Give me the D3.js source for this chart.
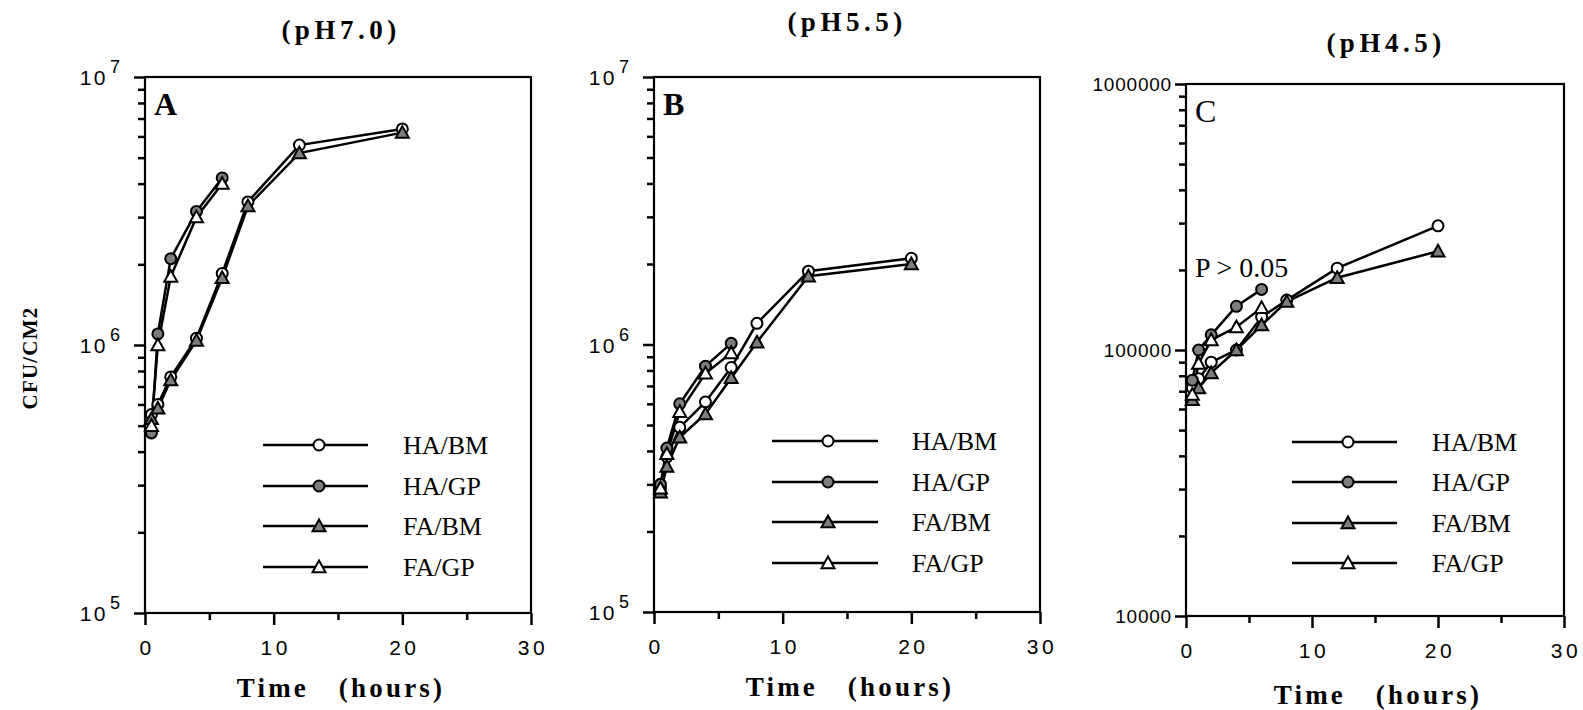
<!DOCTYPE html>
<html>
<head>
<meta charset="utf-8">
<script src="https://cdn.jsdelivr.net/npm/d3@7/dist/d3.min.js"></script>
<style>
  html, body { margin: 0; padding: 0; background: #fff; }
  svg { display: block; }
  .serif { font-family: "Liberation Serif", "Times New Roman", serif; }
  .sans { font-family: "Liberation Sans", Arial, sans-serif; }
</style>
</head>
<body>
<svg id="chart" width="1583" height="710"></svg>
<script>
// ---------------- DATA ----------------
const seriesNames = ["HA/BM", "HA/GP", "FA/BM", "FA/GP"];
const timesLong = [0.5, 1, 2, 4, 6, 8, 12, 20];
const timesShort = [0.5, 1, 2, 4, 6];
const xTicksMajor = [0, 10, 20, 30];
const xTicksMinor = [5, 15, 25];

const panelTitles = ["(pH7.0)", "(pH5.5)", "(pH4.5)"];
const panelLetters = ["A", "B", "C"];

// Panel A (pH 7.0)
const A_HA_BM = [5.5e5, 6.0e5, 7.6e5, 1.06e6, 1.85e6, 3.42e6, 5.57e6, 6.4e6];
const A_HA_GP = [4.7e5, 1.1e6, 2.1e6, 3.15e6, 4.2e6];
const A_FA_BM = [5.3e5, 5.8e5, 7.4e5, 1.04e6, 1.78e6, 3.3e6, 5.2e6, 6.2e6];
const A_FA_GP = [5.0e5, 1.0e6, 1.8e6, 3.0e6, 4.0e6];

// Panel B (pH 5.5)
const B_HA_BM = [2.9e5, 3.8e5, 4.9e5, 6.1e5, 8.2e5, 1.2e6, 1.88e6, 2.1e6];
const B_HA_GP = [3.0e5, 4.1e5, 6.0e5, 8.3e5, 1.01e6];
const B_FA_BM = [2.8e5, 3.5e5, 4.5e5, 5.5e5, 7.5e5, 1.02e6, 1.8e6, 2.0e6];
const B_FA_GP = [2.9e5, 3.9e5, 5.6e5, 7.8e5, 9.3e5];

// Panel C (pH 4.5)
const C_HA_BM = [7.2e4, 7.8e4, 9.0e4, 1.0e5, 1.33e5, 1.54e5, 2.03e5, 2.93e5];
const C_HA_GP = [7.7e4, 1.0e5, 1.14e5, 1.46e5, 1.69e5];
const C_FA_BM = [6.5e4, 7.2e4, 8.2e4, 1.0e5, 1.24e5, 1.52e5, 1.87e5, 2.35e5];
const C_FA_GP = [6.8e4, 8.9e4, 1.09e5, 1.22e5, 1.44e5];

const A_yDomain = [1e5, 1e7];
const B_yDomain = [1e5, 1e7];
const C_yDomain = [1e4, 1e6];
const C_yLabels = ["10000", "100000", "1000000"];

// ---------------- LAYOUT ----------------
const svg = d3.select("#chart");
const markerStyle = {
  "HA/BM": {shape: "circle", fill: "#fff"},
  "HA/GP": {shape: "circle", fill: "#7d7d7d"},
  "FA/BM": {shape: "triangle", fill: "#7d7d7d"},
  "FA/GP": {shape: "triangle", fill: "#fff"}
};

const panels = [
  {title: panelTitles[0], letter: panelLetters[0], letterBold: true,
   x0: 145, x1: 531, y0: 77, y1: 613, yDomain: A_yDomain, supLabels: true,
   titleX: 341, titleY: 38,
   series: [[timesLong, A_HA_BM, "HA/BM"], [timesLong, A_FA_BM, "FA/BM"],
            [timesShort, A_HA_GP, "HA/GP"], [timesShort, A_FA_GP, "FA/GP"]],
   legend: {lx0: 263, lx1: 368, mx: 319, tx: 403, ys: [445, 486, 526, 567]}},
  {title: panelTitles[1], letter: panelLetters[1], letterBold: true,
   x0: 654, x1: 1040, y0: 77, y1: 612, yDomain: B_yDomain, supLabels: true,
   titleX: 847, titleY: 30,
   series: [[timesLong, B_HA_BM, "HA/BM"], [timesLong, B_FA_BM, "FA/BM"],
            [timesShort, B_HA_GP, "HA/GP"], [timesShort, B_FA_GP, "FA/GP"]],
   legend: {lx0: 772, lx1: 878, mx: 828, tx: 912, ys: [441, 482, 522, 563]}},
  {title: panelTitles[2], letter: panelLetters[2], letterBold: false,
   x0: 1186, x1: 1564, y0: 84, y1: 616, yDomain: C_yDomain, supLabels: false,
   titleX: 1386, titleY: 51,
   series: [[timesLong, C_HA_BM, "HA/BM"], [timesLong, C_FA_BM, "FA/BM"],
            [timesShort, C_HA_GP, "HA/GP"], [timesShort, C_FA_GP, "FA/GP"]],
   legend: {lx0: 1292, lx1: 1397, mx: 1348, tx: 1432, ys: [442, 482, 523, 563]}}
];

function drawMarker(g, name, cx, cy) {
  const st = markerStyle[name];
  if (st.shape === "circle") {
    g.append("circle").attr("cx", cx).attr("cy", cy).attr("r", 5.5)
      .attr("fill", st.fill).attr("stroke", "#000").attr("stroke-width", 2);
  } else {
    const s = 6.5;
    g.append("path")
      .attr("d", `M${cx},${cy - s} L${cx + s},${cy + s * 0.8} L${cx - s},${cy + s * 0.8} Z`)
      .attr("fill", st.fill).attr("stroke", "#000").attr("stroke-width", 2)
      .attr("stroke-linejoin", "miter");
  }
}

panels.forEach((p, pi) => {
  const x = d3.scaleLinear().domain([0, 30]).range([p.x0, p.x1]);
  const y = d3.scaleLog().domain(p.yDomain).range([p.y1, p.y0]);
  const g = svg.append("g");

  // frame
  g.append("rect").attr("x", p.x0).attr("y", p.y0)
    .attr("width", p.x1 - p.x0).attr("height", p.y1 - p.y0)
    .attr("fill", "none").attr("stroke", "#000").attr("stroke-width", 2.2);

  // x axis
  const xMajor = d3.axisBottom(x).tickValues(xTicksMajor).tickSize(12).tickFormat("");
  const xMinor = d3.axisBottom(x).tickValues(xTicksMinor).tickSize(7).tickFormat("");
  [xMajor, xMinor].forEach(ax => {
    const a = g.append("g").attr("transform", `translate(0,${p.y1})`).call(ax);
    a.select(".domain").remove();
    a.selectAll("line").attr("stroke", "#000").attr("stroke-width", 2.5);
  });
  g.selectAll(".xlab").data(xTicksMajor).enter().append("text")
    .attr("class", "sans").attr("x", d => x(d) + 2).attr("y", p.y1 + 42)
    .attr("text-anchor", "middle").attr("font-size", 21).attr("letter-spacing", 3.5)
    .text(d => d);

  // y axis ticks (log)
  const allTicks = y.ticks();
  const majorT = allTicks.filter(v => Math.abs(Math.log10(v) - Math.round(Math.log10(v))) < 1e-9);
  const minorT = allTicks.filter(v => majorT.indexOf(v) < 0);
  const yMajor = d3.axisLeft(y).tickValues(majorT).tickSize(11).tickFormat("");
  const yMinor = d3.axisLeft(y).tickValues(minorT).tickSize(7).tickFormat("");
  [yMajor, yMinor].forEach(ax => {
    const a = g.append("g").attr("transform", `translate(${p.x0},0)`).call(ax);
    a.select(".domain").remove();
    a.selectAll("line").attr("stroke", "#000").attr("stroke-width", 2.5);
  });
  if (p.supLabels) {
    majorT.forEach(v => {
      g.append("text").attr("class", "sans").attr("font-size", 21)
        .attr("x", p.x0 - 37).attr("y", y(v) + 8).attr("text-anchor", "end")
        .attr("letter-spacing", 2.5).text("10");
      g.append("text").attr("class", "sans").attr("font-size", 18)
        .attr("x", p.x0 - 35).attr("y", y(v) - 4).text(String(Math.round(Math.log10(v))));
    });
  } else {
    majorT.forEach((v, i) => {
      g.append("text").attr("class", "sans").attr("font-size", 19)
        .attr("x", p.x0 - 14).attr("y", y(v) + 7).attr("text-anchor", "end")
        .attr("letter-spacing", 0.8).text(C_yLabels[i]);
    });
  }

  // title
  g.append("text").attr("class", "serif").attr("font-weight", "bold")
    .attr("font-size", 27).attr("letter-spacing", 4.5)
    .attr("x", p.titleX).attr("y", p.titleY + 1).attr("text-anchor", "middle")
    .text(p.title);

  // panel letter
  g.append("text").attr("class", "serif").attr("font-weight", p.letterBold ? "bold" : "normal")
    .attr("font-size", 32).attr("x", p.x0 + 9).attr("y", p.y0 + 38).text(p.letter);

  // x axis title
  const xt = g.append("text").attr("class", "serif").attr("font-weight", "bold")
    .attr("font-size", 27).attr("letter-spacing", 3.2)
    .attr("x", (p.x0 + p.x1) / 2 + 3).attr("y", p.y1 + 84 + (pi === 2 ? 4 : 0)).attr("text-anchor", "middle");
  xt.text("Time\u00a0\u00a0\u00a0(hours)");

  // series lines
  const line = d3.line().x(d => x(d[0])).y(d => y(d[1]));
  p.series.forEach(([xs, ys, name]) => {
    const pts = xs.map((t, i) => [t, ys[i]]);
    g.append("path").datum(pts).attr("d", line)
      .attr("fill", "none").attr("stroke", "#000").attr("stroke-width", 2.5);
  });
  p.series.forEach(([xs, ys, name]) => {
    xs.forEach((t, i) => drawMarker(g, name, x(t), y(ys[i])));
  });

  // legend
  seriesNames.forEach((name, i) => {
    const ly = p.legend.ys[i];
    g.append("line").attr("x1", p.legend.lx0).attr("x2", p.legend.lx1)
      .attr("y1", ly).attr("y2", ly).attr("stroke", "#000").attr("stroke-width", 2.5);
    drawMarker(g, name, p.legend.mx, ly);
    g.append("text").attr("class", "serif").attr("font-size", 26)
      .attr("x", p.legend.tx).attr("y", ly + 9).text(name);
  });
});

// P > 0.05 annotation on panel C
svg.append("text").attr("class", "serif").attr("font-size", 28)
  .attr("x", 1195).attr("y", 277).text("P > 0.05");

// y axis title
svg.append("text").attr("class", "serif").attr("font-weight", "bold")
  .attr("font-size", 21).attr("letter-spacing", 1.2)
  .attr("transform", "translate(37,358) rotate(-90)")
  .attr("text-anchor", "middle").text("CFU/CM2");
</script>
</body>
</html>
